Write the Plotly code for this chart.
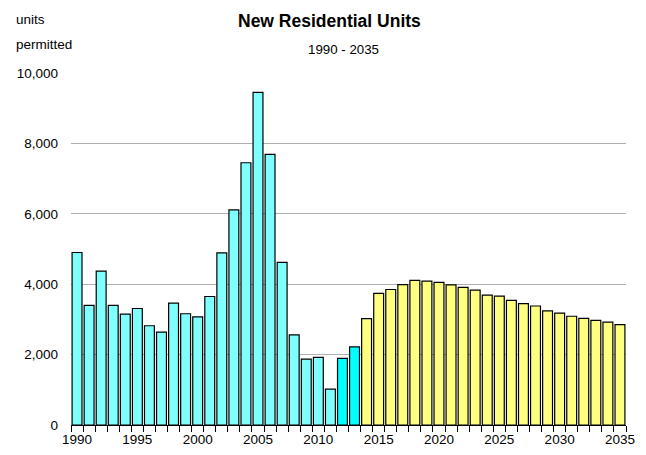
import plotly.graph_objects as go

years = list(range(1990, 2036))
units = [4900, 3400, 4370, 3400, 3150, 3310, 2820, 2640, 3460, 3160,
         3070, 3650, 4890, 6110, 7450, 9450, 7690, 4620, 2560, 1870,
         1920, 1020, 1890, 2220,
         3020, 3740, 3850, 3990, 4110, 4090, 4050, 3980, 3910, 3830,
         3690, 3660, 3540, 3450, 3380, 3240, 3180, 3090, 3030, 2970,
         2920, 2850]
hist_color = "#80FFFF"
recent_color = "#00FFFF"
fcst_color = "#FFFF80"
colors = [hist_color if y <= 2011 else (recent_color if y <= 2013 else fcst_color) for y in years]

tick_years = list(range(1990, 2036, 5))
y_ticks = [0, 2000, 4000, 6000, 8000, 10000]

L, R, T, B = 71, 20, 73, 30
W = 646 - L - R
H = 455 - T - B
def px(x): return (x - L) / W
def py(y): return (455 - B - y) / H

font = "Liberation Sans, Arial, sans-serif"

fig = go.Figure(go.Bar(
    x=years, y=units, marker=dict(color=colors, line=dict(color="black", width=1.2)),
    width=0.82, showlegend=False, cliponaxis=False))

fig.update_layout(
    width=646, height=455,
    margin=dict(l=L, r=R, t=T, b=B, autoexpand=False),
    paper_bgcolor="white", plot_bgcolor="white",
    font=dict(family=font, size=13.5, color="black"),
    annotations=[
        dict(text="<b>New Residential Units</b>", x=px(329), y=py(21), xref="paper", yref="paper",
             xanchor="center", yanchor="middle", showarrow=False, font=dict(size=17.5)),
        dict(text="1990 - 2035", x=px(343), y=py(50), xref="paper", yref="paper",
             xanchor="center", yanchor="middle", showarrow=False, font=dict(size=13.3)),
        dict(text="units", x=px(14), y=py(20), xref="paper", yref="paper",
             xanchor="left", yanchor="middle", showarrow=False, font=dict(size=13.5)),
        dict(text="permitted", x=px(14), y=py(45), xref="paper", yref="paper",
             xanchor="left", yanchor="middle", showarrow=False, font=dict(size=13.5)),
    ],
)

fig.update_xaxes(range=[1989.5, 2035.5], tickvals=tick_years, ticks="", showgrid=False,
                 showline=True, linecolor="black", linewidth=1, zeroline=False,
                 tickfont=dict(size=13.5), automargin=False, ticklabelstandoff=2,
                 minor=dict(tickvals=[y - 0.5 for y in years] + [2035.5], ticks="outside",
                            ticklen=6, tickcolor="black", tickwidth=1, showgrid=False))
fig.update_yaxes(range=[0, 10000], tickvals=y_ticks, tickformat=",", showgrid=True,
                 gridcolor="#B0B0B0", gridwidth=1, zeroline=False, showline=False,
                 ticks="", tickfont=dict(size=13.5), automargin=False, ticklabelstandoff=12)

fig.write_html("out.html", post_script="document.body.style.margin='0';",
               config={"displayModeBar": False})
